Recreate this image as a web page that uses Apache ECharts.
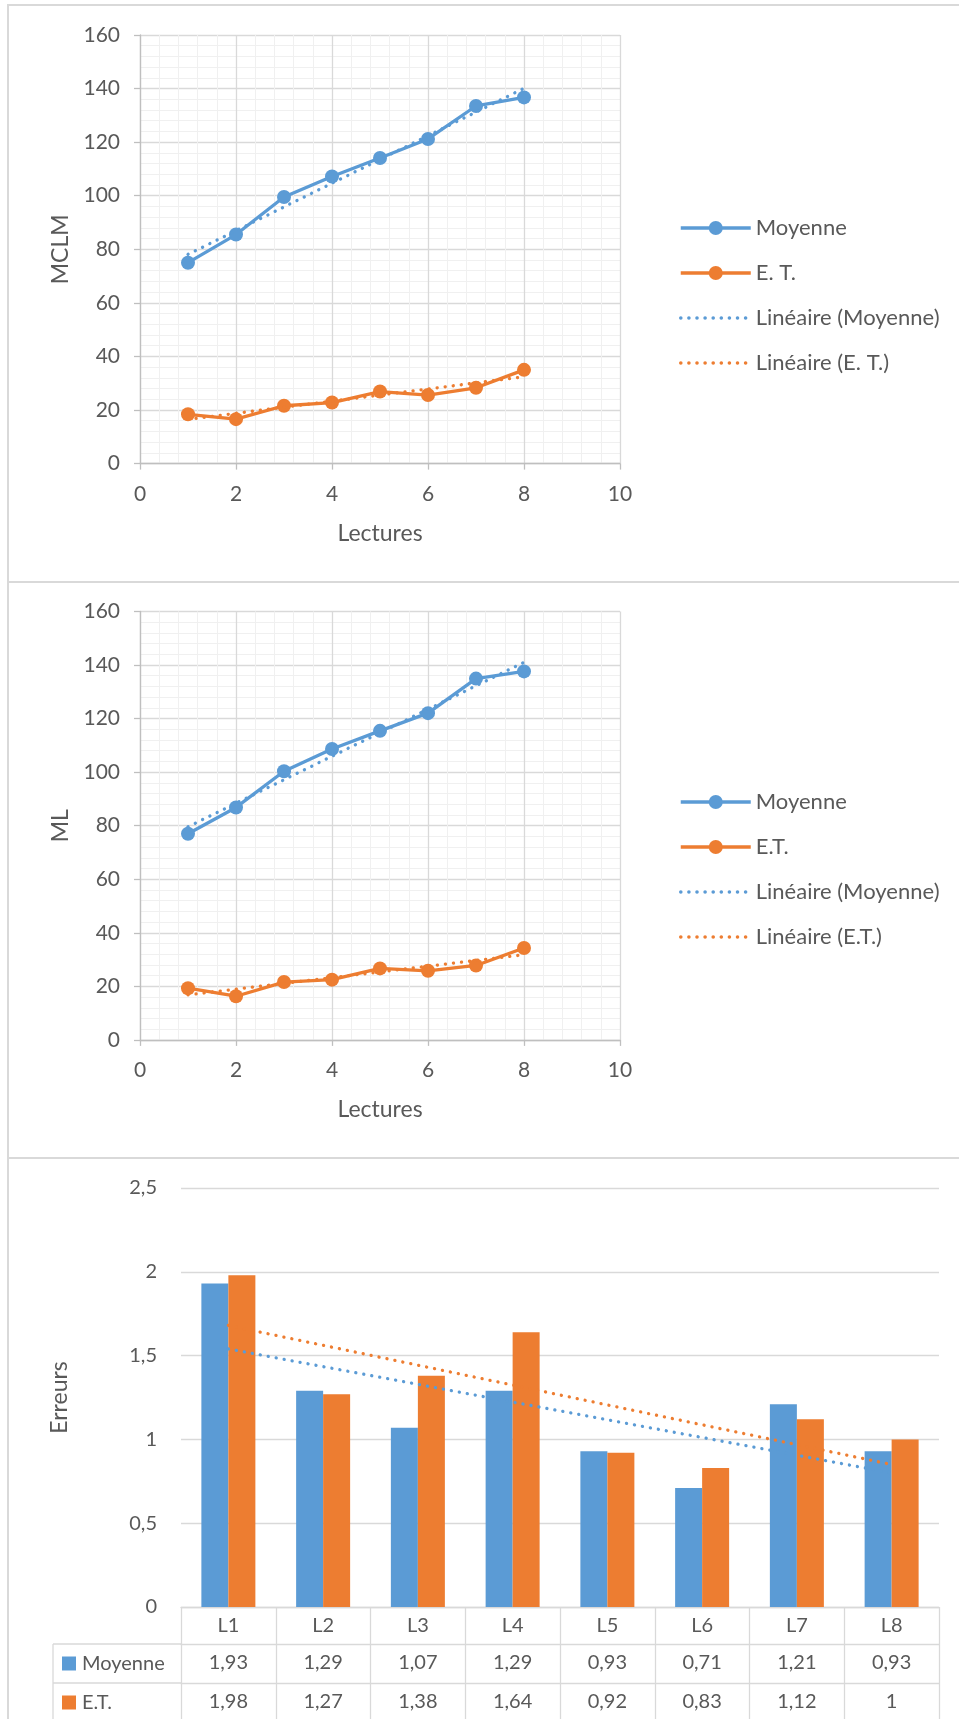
<!DOCTYPE html>
<html><head><meta charset="utf-8">
<script src="https://cdn.jsdelivr.net/npm/echarts@6/dist/echarts.min.js"></script>
<style>
html,body{margin:0;padding:0;background:#fff;width:959px;height:1719px;overflow:hidden;position:relative;}
#c1{position:absolute;left:0;top:0;width:959px;height:582px;}
#c2{position:absolute;left:0;top:582px;width:959px;height:576px;}
#c3{position:absolute;left:0;top:1158px;width:959px;height:561px;}
.bl{position:absolute;background:#d9d9d9;}
</style></head><body>
<div id="c1"></div><div id="c2"></div><div id="c3"></div>
<div class="bl" style="left:7px;top:4px;width:2px;height:1715px"></div>
<div class="bl" style="left:7px;top:4px;width:952px;height:2px"></div>
<div class="bl" style="left:7px;top:581px;width:952px;height:2px"></div>
<div class="bl" style="left:7px;top:1157px;width:952px;height:2px"></div>
<script>
// ---------- DATA ----------
const lectures = [1, 2, 3, 4, 5, 6, 7, 8];

const mclmMoyenne = [75.0, 85.5, 99.5, 107.2, 114.1, 121.2, 133.5, 136.7];
const mclmET      = [18.4, 16.6, 21.6, 22.8, 26.9, 25.6, 28.3, 35.0];
const mclmTrendMoyenne = [78.1, 140.1];   // trend line at first / last reading
const mclmTrendET      = [16.5, 32.4];

const mlMoyenne = [77.0, 86.8, 100.3, 108.6, 115.4, 122.0, 134.9, 137.6];
const mlET      = [19.3, 16.3, 21.6, 22.5, 26.7, 25.8, 27.8, 34.3];
const mlTrendMoyenne = [79.6, 141.0];
const mlTrendET      = [16.8, 31.8];

const barCategories = ['L1', 'L2', 'L3', 'L4', 'L5', 'L6', 'L7', 'L8'];
const errMoyenne = [1.93, 1.29, 1.07, 1.29, 0.93, 0.71, 1.21, 0.93];
const errET      = [1.98, 1.27, 1.38, 1.64, 0.92, 0.83, 1.12, 1];
const errTrendMoyenne = [1.54, 0.80];
const errTrendET      = [1.68, 0.85];

// ---------- STYLE ----------
const FONT = 'Lato';
const TXT = '#595959';
const BLUE = '#5b9bd5';
const ORANGE = '#ed7d31';
const GRID_MAJOR = '#d9d9d9';
const GRID_MINOR = '#f0f0f0';
const AXIS = '#bfbfbf';
const DOT = [0.1, 8];

function fmt(v) { return String(v).replace('.', ','); }

function lineChart(el, o) {
  const chart = echarts.init(el);
  const axisCommon = {
    axisLine: { show: true, onZero: false, lineStyle: { color: AXIS, width: 1.3 } },
    axisTick: { show: true, length: 6, lineStyle: { color: AXIS, width: 1.3 } },
    axisLabel: { fontSize: 21, color: TXT, margin: 20, fontFamily: FONT },
    splitLine: { show: true, lineStyle: { color: GRID_MAJOR, width: 1.3 } },
    minorTick: { show: false, splitNumber: 5 },
    minorSplitLine: { show: true, lineStyle: { color: GRID_MINOR, width: 1 } },
    nameLocation: 'middle',
    nameTextStyle: { fontSize: 23, color: TXT, fontFamily: FONT }
  };
  const trend = (x0, x1, ys) => [[x0, ys[0]], [x1, ys[1]]];
  chart.setOption({
    animation: false,
    textStyle: { fontFamily: FONT },
    grid: { left: 140, top: o.top, width: 480, height: o.height },
    xAxis: Object.assign({ type: 'value', min: 0, max: 10, interval: 2, name: 'Lectures', nameGap: 58 }, axisCommon),
    yAxis: Object.assign({ type: 'value', min: 0, max: 160, interval: 20, name: o.yName, nameGap: 68 }, axisCommon),
    legend: {
      orient: 'vertical', left: 674, top: o.legendTop,
      itemWidth: 70, itemHeight: 17.5, itemGap: 19,
      textStyle: { fontSize: 22, color: TXT, lineHeight: 26, fontFamily: FONT },
      lineStyle: { width: 3.5 },
      data: [
        { name: o.names[0] },
        { name: o.names[1] },
        { name: o.names[2], itemStyle: { opacity: 0 } },
        { name: o.names[3], itemStyle: { opacity: 0 } }
      ]
    },
    series: [
      { type: 'line', name: o.names[0], data: lectures.map((x, i) => [x, o.moy[i]]),
        symbol: 'circle', symbolSize: 14, lineStyle: { width: 3.3, color: BLUE }, itemStyle: { color: BLUE }, z: 3 },
      { type: 'line', name: o.names[1], data: lectures.map((x, i) => [x, o.et[i]]),
        symbol: 'circle', symbolSize: 14, lineStyle: { width: 3.3, color: ORANGE }, itemStyle: { color: ORANGE }, z: 3 },
      { type: 'line', name: o.names[2], data: trend(lectures[0], lectures[lectures.length - 1], o.tMoy),
        symbol: 'none', lineStyle: { width: 3.3, color: BLUE, type: DOT, cap: 'round' }, itemStyle: { color: BLUE }, z: 4 },
      { type: 'line', name: o.names[3], data: trend(lectures[0], lectures[lectures.length - 1], o.tEt),
        symbol: 'none', lineStyle: { width: 3.3, color: ORANGE, type: DOT, cap: 'round' }, itemStyle: { color: ORANGE }, z: 4 }
    ]
  });
}

lineChart(document.getElementById('c1'), {
  top: 35, height: 428.6, yName: 'MCLM', legendTop: 210,
  names: ['Moyenne', 'E. T.', 'Linéaire (Moyenne)', 'Linéaire (E. T.)'],
  moy: mclmMoyenne, et: mclmET, tMoy: mclmTrendMoyenne, tEt: mclmTrendET
});
lineChart(document.getElementById('c2'), {
  top: 29.4, height: 428.5, yName: 'ML', legendTop: 202,
  names: ['Moyenne', 'E.T.', 'Linéaire (Moyenne)', 'Linéaire (E.T.)'],
  moy: mlMoyenne, et: mlET, tMoy: mlTrendMoyenne, tEt: mlTrendET
});

// ---------- BAR CHART WITH DATA TABLE ----------
(function () {
  const chart = echarts.init(document.getElementById('c3'));
  const G = { left: 181, top: 30, width: 758, height: 419 };
  const ROW0 = 37, ROW = 39, TABLE_LEFT = 53;
  const axisBottom = G.top + G.height;
  const lineC = GRID_MAJOR;
  const FS = 20;
  const tableAxis = (data, offset, tickLen) => ({
    type: 'category', data: data, position: 'bottom', offset: offset,
    axisLine: { show: true, lineStyle: { color: lineC, width: 1.3 } },
    axisTick: { show: true, length: tickLen, interval: 0, lineStyle: { color: lineC, width: 1.3 } },
    axisLabel: { fontSize: FS, color: TXT, margin: 9, lineHeight: 20, interval: 0, fontFamily: FONT },
    splitLine: { show: false }
  });
  const nullsBetween = (ys) => barCategories.map((c, i) => i === 0 ? ys[0] : (i === barCategories.length - 1 ? ys[1] : null));
  const r1 = axisBottom + ROW0, r2 = r1 + ROW;
  chart.setOption({
    animation: false,
    textStyle: { fontFamily: FONT },
    grid: G,
    xAxis: [
      tableAxis(barCategories, 0, ROW0),
      tableAxis(errMoyenne.map(fmt), ROW0, ROW),
      tableAxis(errET.map(fmt), ROW0 + ROW, ROW)
    ],
    yAxis: {
      type: 'value', min: 0, max: 2.5, interval: 0.5,
      axisLine: { show: false }, axisTick: { show: false },
      axisLabel: { formatter: fmt, fontSize: FS, color: TXT, margin: 24, fontFamily: FONT },
      splitLine: { lineStyle: { color: GRID_MAJOR, width: 1.3 } },
      name: 'Erreurs', nameLocation: 'middle', nameGap: 110,
      nameTextStyle: { fontSize: 23, color: TXT, fontFamily: FONT }
    },
    series: [
      { type: 'bar', name: 'Moyenne', data: errMoyenne, barWidth: 27, barGap: '0%', itemStyle: { color: BLUE } },
      { type: 'bar', name: 'E.T.', data: errET, barWidth: 27, barGap: '0%', itemStyle: { color: ORANGE } },
      { type: 'line', name: 'Linéaire (Moyenne)', data: nullsBetween(errTrendMoyenne), connectNulls: true,
        symbol: 'none', lineStyle: { width: 3.3, color: BLUE, type: DOT, cap: 'round' }, z: 5 },
      { type: 'line', name: 'Linéaire (E.T.)', data: nullsBetween(errTrendET), connectNulls: true,
        symbol: 'none', lineStyle: { width: 3.3, color: ORANGE, type: DOT, cap: 'round' }, z: 5 }
    ],
    graphic: [
      { type: 'line', shape: { x1: TABLE_LEFT, y1: r1, x2: G.left, y2: r1 }, style: { stroke: lineC, lineWidth: 1.3 } },
      { type: 'line', shape: { x1: TABLE_LEFT, y1: r2, x2: G.left, y2: r2 }, style: { stroke: lineC, lineWidth: 1.3 } },
      { type: 'line', shape: { x1: TABLE_LEFT, y1: r1, x2: TABLE_LEFT, y2: r2 + ROW + 5 }, style: { stroke: lineC, lineWidth: 1.3 } },
      { type: 'rect', shape: { x: 62, y: r1 + ROW / 2 - 7, width: 14, height: 14 }, style: { fill: BLUE } },
      { type: 'rect', shape: { x: 62, y: r2 + ROW / 2 - 7, width: 14, height: 14 }, style: { fill: ORANGE } },
      { type: 'text', x: 82, y: r1 + ROW / 2, style: { text: 'Moyenne', fontSize: FS, fill: TXT, fontFamily: FONT, verticalAlign: 'middle' } },
      { type: 'text', x: 82, y: r2 + ROW / 2, style: { text: 'E.T.', fontSize: FS, fill: TXT, fontFamily: FONT, verticalAlign: 'middle' } }
    ]
  });
})();
</script>
</body></html>
